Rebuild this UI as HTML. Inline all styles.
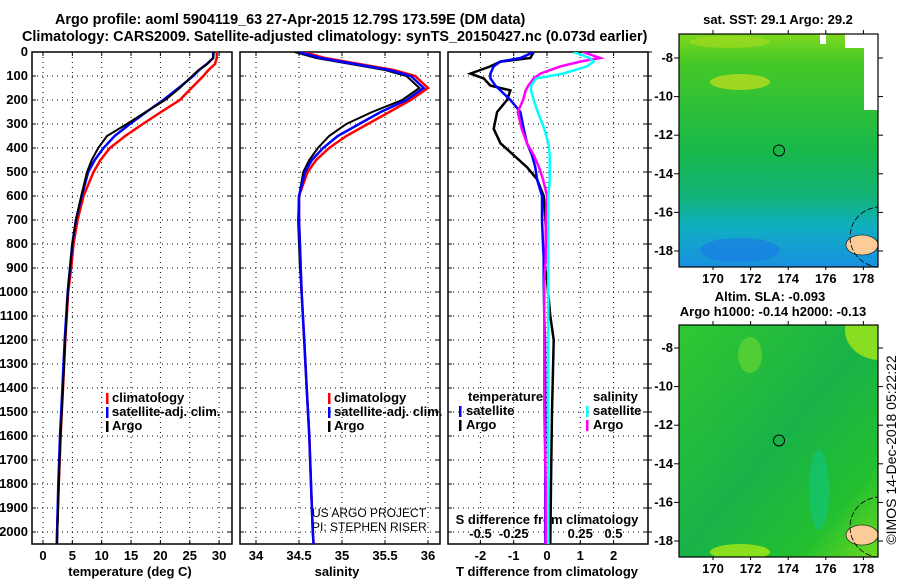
<!DOCTYPE html>
<html><head><meta charset="utf-8">
<style>
body{margin:0;background:#fff;}
svg{display:block;font-family:"Liberation Sans",Arial,sans-serif;}
text{font-weight:bold;font-size:13px;fill:#000;}
</style></head>
<body>
<svg id="chart" width="900" height="580" viewBox="0 0 900 580">
<defs>
<linearGradient id="sstGrad" x1="0" y1="0" x2="0" y2="1">
<stop offset="0" stop-color="#7fd820"/><stop offset="0.12" stop-color="#46c825"/><stop offset="0.5" stop-color="#18b84a"/><stop offset="0.7" stop-color="#12b278"/><stop offset="0.82" stop-color="#10b0c0"/><stop offset="1" stop-color="#1890e0"/>
</linearGradient>
<linearGradient id="slaGrad" x1="0" y1="0" x2="1" y2="1">
<stop offset="0" stop-color="#30c830"/><stop offset="0.5" stop-color="#18b248"/><stop offset="0.8" stop-color="#22c030"/><stop offset="1" stop-color="#70d820"/>
</linearGradient>
<clipPath id="c1"><rect x="32" y="52" width="200" height="492"/></clipPath>
<clipPath id="c2"><rect x="240" y="52" width="200" height="492"/></clipPath>
<clipPath id="c3"><rect x="448" y="52" width="200" height="492"/></clipPath>
<clipPath id="m1"><rect x="679" y="34" width="199" height="233"/></clipPath>
<clipPath id="m2"><rect x="679" y="325" width="199" height="232"/></clipPath>
</defs>
<text x="55" y="24" style="font-size:14.4px">Argo profile: aoml 5904119_63 27-Apr-2015 12.79S 173.59E (DM data)</text>
<text x="22" y="41" style="font-size:14.4px">Climatology: CARS2009. Satellite-adjusted climatology: synTS_20150427.nc (0.073d earlier)</text>
<g id="g"></g>
</svg>
<script>
const depth=[0,25,50,75,100,150,200,250,300,350,400,450,500,600,700,800,900,1000,1200,1400,1600,1800,2000,2050];
const tempClim=[29.6,29.6,29.3,28.2,27.3,25.3,23.3,20.1,17,14,11.4,9.8,8.6,6.9,5.9,5.2,4.8,4.3,3.8,3.4,3.0,2.7,2.4,2.35];
const tempSat=[29.0,29.0,27.9,26.6,25.6,23.1,20.5,17.6,14.8,12.2,10.3,8.8,7.7,6.6,5.6,5.0,4.6,4.2,3.7,3.3,2.9,2.6,2.4,2.35];
const tempArgo=[29.1,29.0,28.0,26.5,25.4,23.3,20.8,17.5,14.3,10.9,9.4,8.3,7.5,6.5,5.6,5.0,4.6,4.2,3.8,3.4,3.0,2.7,2.45,2.4];
const salClim=[34.55,34.8,35.2,35.6,35.85,36.0,35.8,35.55,35.3,35.05,34.85,34.7,34.6,34.5,34.5,34.51,34.52,34.53,34.56,34.59,34.62,34.64,34.66,34.67];
const salSat=[34.5,34.75,35.15,35.55,35.8,35.95,35.75,35.45,35.2,34.95,34.78,34.65,34.57,34.5,34.5,34.51,34.52,34.53,34.56,34.59,34.62,34.64,34.66,34.67];
const salArgo=[34.45,34.7,35.1,35.5,35.75,35.9,35.7,35.35,35.05,34.85,34.72,34.62,34.55,34.5,34.49,34.5,34.51,34.53,34.56,34.59,34.62,34.64,34.66,34.67];
const dDepth=[0,25,40,60,90,110,140,160,200,250,320,380,430,480,530,600,700,800,860,950,1100,1200,1500,1800,2050];
const dTArgo=[-0.4,-0.5,-1.4,-1.7,-2.3,-1.9,-1.7,-1.1,-1.2,-1.5,-1.6,-1.4,-1.0,-0.6,-0.3,-0.1,-0.05,0,-0.1,0,0.1,0.2,0.15,0.12,0.1];
const dTSat=[-0.4,-0.8,-1.4,-1.6,-1.7,-1.7,-1.55,-1.4,-1.1,-0.8,-0.7,-0.6,-0.45,-0.35,-0.3,-0.15,-0.15,-0.12,-0.1,-0.1,-0.08,-0.06,-0.05,-0.05,-0.05];
const dSArgo=[0.27,0.4,0.25,0.1,-0.05,-0.1,-0.14,-0.16,-0.18,-0.22,-0.19,-0.15,-0.1,-0.06,-0.03,0,-0.01,-0.01,-0.01,-0.02,-0.02,-0.02,-0.02,-0.01,-0.01];
const dSSat=[0.2,0.32,0.35,0.3,0.12,-0.08,-0.12,-0.12,-0.1,-0.07,-0.02,0.01,0.02,0.02,0.02,0.01,0.01,0.01,0.01,0.01,0.01,0.01,0.01,0.01,0.01];
const depthTicks=[0,100,200,300,400,500,600,700,800,900,1000,1100,1200,1300,1400,1500,1600,1700,1800,1900,2000];
const tTicks=[0,5,10,15,20,25,30];
const sTicks=[34,34.5,35,35.5,36];
const dtTicks=[-2,-1,0,1,2];
const dsTicks=[-0.5,-0.25,0,0.25,0.5];
const latTicks=[-8,-10,-12,-14,-16,-18];
const lonTicks=[170,172,174,176,178];

const NS='http://www.w3.org/2000/svg';
const G=document.getElementById('g');
function el(t,a,p){const e=document.createElementNS(NS,t);for(const k in a)e.setAttribute(k,a[k]);(p||G).appendChild(e);return e;}
const Y=d=>52+d*0.24;
const xT=v=>43+v*5.87;
const xS=v=>299+(v-34.5)*86;
const xDT=v=>547+v*33.3;
const xDS=v=>547+v*133;

function panel(x0,name){
  const r=el('rect',{x:x0,y:52,width:200,height:492,fill:'none',stroke:'#000','stroke-width':1.5});
  
  depthTicks.forEach(d=>{ if(d>0){const l=el('line',{x1:x0,x2:x0+200,y1:Y(d),y2:Y(d),stroke:'#000','stroke-dasharray':'1,4'});
   }
   el('line',{x1:x0,x2:x0+4,y1:Y(d),y2:Y(d),stroke:'#000'});el('line',{x1:x0+196,x2:x0+200,y1:Y(d),y2:Y(d),stroke:'#000'});});
}
function vgrid(xs,f){xs.forEach(v=>{const x=f(v);const l=el('line',{x1:x,x2:x,y1:52,y2:544,stroke:'#000','stroke-dasharray':'1,4'});
 
 el('line',{x1:x,x2:x,y1:540,y2:544,stroke:'#000'});el('line',{x1:x,x2:x,y1:52,y2:56,stroke:'#000'});});}
function line(xs,ds,fx,col,clip,name,w){
  const pts=xs.map((v,i)=>fx(v).toFixed(1)+','+Y(ds[i]).toFixed(1)).join(' ');
  const p=el('polyline',{points:pts,fill:'none',stroke:col,'stroke-width':w||2.5,'clip-path':'url(#'+clip+')'});
  
}
function txt(x,y,s,anchor,name,extra){const t=el('text',Object.assign({x:x,y:y,'text-anchor':anchor||'start'},extra||{}));t.textContent=s;
  return t;}
function mark(x,y,col){el('rect',{x:x,y:y-9,width:2.5,height:11,fill:col});}

panel(32,'temperature-panel');panel(240,'salinity-panel');panel(448,'difference-panel');
depthTicks.forEach(d=>txt(28,Y(d)+4,String(d),'end','depth-tick-label'));
vgrid(tTicks,xT);vgrid(sTicks,xS);vgrid(dtTicks,xDT);
tTicks.forEach(v=>txt(xT(v),560,String(v),'middle','temperature-tick-label'));
sTicks.forEach(v=>txt(xS(v),560,String(v),'middle','salinity-tick-label'));
dtTicks.forEach(v=>txt(xDT(v),560,String(v),'middle','t-diff-tick-label'));
dsTicks.forEach(v=>txt(xDS(v),538,String(v),'middle','s-diff-tick-label'));
txt(130,576,'temperature (deg C)','middle','temperature-axis-title');
txt(337,576,'salinity','middle','salinity-axis-title');
txt(547,576,'T difference from climatology','middle','t-diff-axis-title');
txt(547,524,'S difference from climatology','middle','s-diff-axis-title');
depthTicks.forEach(d=>{el('line',{x1:648,x2:652,y1:Y(d),y2:Y(d),stroke:'#000'});});

line(tempClim,depth,xT,'#f00','c1','temperature-climatology-line');
line(tempSat,depth,xT,'#00f','c1','temperature-satellite-line');
line(tempArgo,depth,xT,'#000','c1','temperature-argo-line',2);
line(salClim,depth,xS,'#f00','c2','salinity-climatology-line');
line(salArgo,depth,xS,'#000','c2','salinity-argo-line',2);
line(salSat,depth,xS,'#00f','c2','salinity-satellite-line');
line(dTArgo,dDepth,xDT,'#000','c3','t-diff-argo-line');
line(dTSat,dDepth,xDT,'#00f','c3','t-diff-satellite-line');
line(dSArgo,dDepth,xDS,'#f0f','c3','s-diff-argo-line');
line(dSSat,dDepth,xDS,'#0ff','c3','s-diff-satellite-line');

[['climatology','#f00'],['satellite-adj. clim.','#00f'],['Argo','#000']].forEach((l,i)=>{
  mark(106,402+i*14,l[1]);txt(112,402+i*14,l[0],'start','temperature-legend-entry');
  mark(328,402+i*14,l[1]);txt(334,402+i*14,l[0],'start','salinity-legend-entry');});
txt(468,401,'temperature','start','legend-temperature-heading');
mark(459,415,'#00f');txt(466,415,'satellite','start','legend-t-satellite');
mark(459,429,'#000');txt(466,429,'Argo','start','legend-t-argo');
txt(593,401,'salinity','start','legend-salinity-heading');
mark(586,415,'#0ff');txt(593,415,'satellite','start','legend-s-satellite');
mark(586,429,'#f0f');txt(593,429,'Argo','start','legend-s-argo');
txt(312,517,'US ARGO PROJECT','start','project-credit',{style:'font-weight:normal;font-size:12px'});
txt(312,531,'PI: STEPHEN RISER','start','pi-credit',{style:'font-weight:normal;font-size:12px'});

// maps
const M1=el('g',{'clip-path':'url(#m1)'});
const M2=el('g',{'clip-path':'url(#m2)'});
el('rect',{x:679,y:34,width:199,height:233,fill:'url(#sstGrad)'},M1);
el('ellipse',{cx:740,cy:82,rx:30,ry:8,fill:'#c8e020',opacity:0.7},M1);
el('ellipse',{cx:730,cy:42,rx:40,ry:6,fill:'#a8dc20',opacity:0.6},M1);
el('ellipse',{cx:740,cy:250,rx:40,ry:12,fill:'#1a78e8',opacity:0.6},M1);
el('rect',{x:845,y:34,width:33,height:14,fill:'#fff'},M1);el('rect',{x:864,y:48,width:14,height:62,fill:'#fff'},M1);
el('rect',{x:820,y:34,width:6,height:10,fill:'#fff'},M1);
el('rect',{x:679,y:325,width:199,height:232,fill:'url(#slaGrad)'},M2);
el('ellipse',{cx:819,cy:490,rx:10,ry:40,fill:'#10c890',opacity:0.5},M2);
el('ellipse',{cx:750,cy:355,rx:12,ry:18,fill:'#70d830',opacity:0.6},M2);
el('ellipse',{cx:880,cy:330,rx:35,ry:30,fill:'#b8f010',opacity:0.7},M2);
el('ellipse',{cx:740,cy:552,rx:30,ry:8,fill:'#b8f010',opacity:0.7},M2);
[[34,267,M1],[325,557,M2]].forEach(m=>{
  const lat0=m[0]===34?58:348;
  el('ellipse',{cx:862,cy:m[1]-22,rx:16,ry:10,fill:'#fccc98',stroke:'#000','stroke-width':0.6},m[2]);
  el('circle',{cx:880,cy:m[1]-30,r:30,fill:'none',stroke:'#000','stroke-width':0.8,'stroke-dasharray':'6,2'},m[2]);
  const fr=el('rect',{x:679,y:m[0],width:199,height:m[1]-m[0],fill:'none',stroke:'#000','stroke-width':1.2});
  
  const c=el('circle',{cx:779,cy:lat0+4.79*19.3,r:5.5,fill:'none',stroke:'#000','stroke-width':1});
  
  latTicks.forEach(v=>{const y=lat0+(-8-v)*19.3;txt(673,y+4,String(v),'end','latitude-tick-label');
    el('line',{x1:878,x2:883,y1:y,y2:y,stroke:'#000'});el('line',{x1:674,x2:679,y1:y,y2:y,stroke:'#000'});});
  lonTicks.forEach(v=>{const x=713+(v-170)*18.8;txt(x,m[1]+16,String(v),'middle','longitude-tick-label');
    el('line',{x1:x,x2:x,y1:m[1],y2:m[1]+3,stroke:'#000'});el('line',{x1:x,x2:x,y1:m[0]-4,y2:m[0],stroke:'#000'});});
});
txt(778,24,'sat. SST: 29.1 Argo: 29.2','middle','sst-map-title');
txt(770,301,'Altim. SLA: -0.093','middle','sla-label');
txt(773,316,'Argo h1000: -0.14 h2000: -0.13','middle','argo-height-label');
txt(0,0,'\u00a9IMOS 14-Dec-2018 05:22:22','middle','timestamp-credit',{transform:'translate(896,450) rotate(-90)',style:'font-weight:normal;font-size:14px'});
</script>
</body></html>
